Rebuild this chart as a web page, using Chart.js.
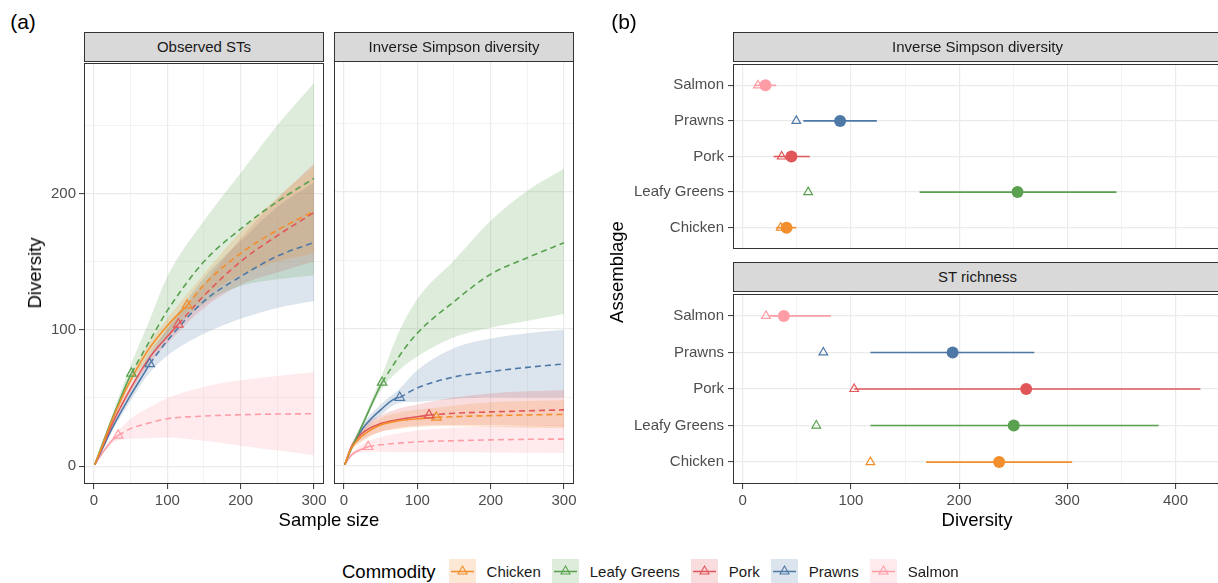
<!DOCTYPE html>
<html>
<head>
<meta charset="utf-8">
<title>Diversity by commodity</title>
<script src="https://cdn.jsdelivr.net/npm/chart.js@4.4.1/dist/chart.umd.min.js"></script>
<style>
  html, body { margin: 0; padding: 0; background: #fff; overflow: hidden; }
  #wrap { position: relative; width: 1218px; height: 583px; overflow: hidden; background: #fff;
          font-family: "Liberation Sans", Arial, sans-serif; }
  #wrap canvas { position: absolute; }
  .strip { position: absolute; box-sizing: border-box; background: #D9D9D9; border: 1px solid #333;
           color: #1A1A1A; font-size: 15px; text-align: center; white-space: nowrap; overflow: hidden; }
  .txt { position: absolute; white-space: nowrap; transform: translate(-50%, -50%); color: #000; }
  #legend { position: absolute; left: 342px; top: 559px; height: 25px; display: flex; align-items: center;
            font-size: 15px; color: #1A1A1A; white-space: nowrap; }
  #legend .title { font-size: 18.5px; color: #000; margin-right: 13px; }
  #legend svg { margin-right: 11px; }
  #legend .name { margin-right: 11px; }
</style>
</head>
<body>
<div id="wrap">
  <canvas id="stCurve"></canvas>
  <canvas id="isCurve"></canvas>
  <canvas id="invDots"></canvas>
  <canvas id="richDots"></canvas>

  <div class="strip" style="left:84px;top:32px;width:240px;height:30px;line-height:28px">Observed STs</div>
  <div class="strip" style="left:334px;top:32px;width:240px;height:30px;line-height:28px">Inverse Simpson diversity</div>
  <div class="strip" style="left:733px;top:32px;width:489px;height:30px;line-height:28px">Inverse Simpson diversity</div>
  <div class="strip" style="left:733px;top:262px;width:489px;height:30px;line-height:28px">ST richness</div>

  <div class="txt" style="left:23px;top:22px;font-size:21px">(a)</div>
  <div class="txt" style="left:624px;top:22px;font-size:21px">(b)</div>
  <div class="txt" style="left:329px;top:520px;font-size:18.5px">Sample size</div>
  <div class="txt" style="left:977px;top:520px;font-size:18.5px">Diversity</div>
  <div class="txt" style="left:35px;top:273px;font-size:18.5px;transform:translate(-50%,-50%) rotate(-90deg)">Diversity</div>
  <div class="txt" style="left:617px;top:272px;font-size:18.5px;transform:translate(-50%,-50%) rotate(-90deg)">Assemblage</div>

  <div id="legend"><span class="title">Commodity</span></div>
</div>

<script>
// ---- data -------------------------------------------------------------
const commodities = ['Chicken', 'Leafy Greens', 'Pork', 'Prawns', 'Salmon'];
const colors = ['#F28E2B', '#59A14F', '#E15759', '#4E79A7', '#FF9DA7'];
const sampleGrid = [1, 10, 25, 50, 75, 100, 150, 200, 250, 300];

// (a) Observed STs: observed point, then mean / lower / upper along sampleGrid
const stObsN = [127, 51, 115, 76, 33];
const stObsV = [118, 68, 104, 75, 22.6];
const stMean = [
  [1, 13, 34, 63, 86, 103, 133, 156, 173, 187],
  [1, 14, 35, 67, 91, 114, 150, 174, 194, 211],
  [1, 12, 31, 57, 79, 95, 125, 150, 169, 186],
  [1, 11, 28, 52, 74, 92, 121, 139, 154, 164],
  [1, 8.5, 19, 27.5, 31.6, 34.8, 36.7, 37.7, 38.2, 38.4]
];
const stLower = [
  [1, 12, 32, 60, 82, 98, 124, 140, 150, 156],
  [1, 13, 32, 61, 79, 95, 119, 132, 137, 140],
  [1, 11, 29, 54, 75, 90, 116, 133, 142, 150],
  [1, 10, 26, 48, 68, 81, 97, 108, 116, 121],
  [1, 7.5, 17, 20, 20.5, 21, 18.6, 15, 11.4, 8]
];
const stUpper = [
  [1, 14, 36, 66, 90, 108, 141, 172, 197, 220],
  [1, 15, 38, 74, 106, 139, 180, 215, 250, 281],
  [1, 13, 33, 60, 83, 100, 134, 167, 196, 222],
  [1, 12, 30, 56, 80, 101, 138, 165, 190, 208],
  [1, 9.5, 21, 34.8, 43, 49.7, 58.2, 63, 66.1, 68.8]
];

// (a) Inverse Simpson diversity
const isObsN = [126, 52, 116, 76, 33];
const isObsV = [35.5, 61, 37.2, 50, 14.1];
const isMean = [
  [1, 13, 22, 30, 33, 34.5, 36, 36.8, 37.3, 37.7],
  [1, 12.5, 30, 59, 80, 97, 120, 140, 152, 163],
  [1, 14, 24, 31, 34, 36, 38.5, 39.5, 40.3, 41],
  [1, 13, 27, 41, 50, 57, 65, 69, 72, 74.5],
  [1, 8, 12.5, 15.5, 16.7, 17.7, 18.5, 19.1, 19.5, 19.7]
];
const isLower = [
  [1, 11, 18, 25, 27, 28.5, 29, 28.5, 28, 27.5],
  [1, 12, 28, 55, 70, 80, 94, 101, 106, 111],
  [1, 12, 19, 25, 28, 29.5, 30, 30, 29.5, 29],
  [1, 12, 24, 37, 46, 47, 49, 50, 50, 50],
  [1, 7, 10, 10.5, 10, 10, 10, 9.8, 9.7, 9.6]
];
const isUpper = [
  [1, 15, 26, 35, 39, 41, 44, 46.5, 47.5, 48],
  [1, 13, 32, 64, 98, 122, 150, 179, 201, 217],
  [1, 16, 29, 37, 42, 45, 50, 53, 54.5, 55.5],
  [1, 14, 30, 45, 56, 70, 86, 93, 97, 99.5],
  [1, 9, 16, 21, 24, 26, 28, 29, 29.5, 30]
];

// (b) estimates, top to bottom
const assemblages = ['Salmon', 'Prawns', 'Pork', 'Leafy Greens', 'Chicken'];
const invObserved = [14, 49.5, 36, 60.5, 35];
const invEstimate = [21, 90, 45, 254, 40.5];
const invLower = [10.5, 56, 28.5, 163.5, 31];
const invUpper = [31, 124, 62, 345.5, 49.5];
const richObserved = [21.5, 74.5, 103, 68, 118];
const richEstimate = [38, 194, 262, 250.5, 237];
const richLower = [25, 118, 103, 118, 169.5];
const richUpper = [81.5, 269.5, 423, 384.5, 304.5];

// ---- helpers ----------------------------------------------------------
Chart.defaults.font.family = '"Liberation Sans", Arial, sans-serif';
const GRID = '#EBEBEB';
const DARK = '#333333';
const TICK_FONT = { size: 15 };
const CLEAR = 'rgba(0,0,0,0)';

function alpha(hex, a) {
    const n = parseInt(hex.slice(1), 16);
    return `rgba(${n >> 16},${(n >> 8) & 255},${n & 255},${a})`;
}

const framePlugin = {
    id: 'frame',
    afterDraw(chart) {
        const { ctx, chartArea: a } = chart;
        ctx.save();
        ctx.strokeStyle = DARK;
        ctx.lineWidth = 1;
        ctx.strokeRect(a.left + 0.5, a.top + 0.5, a.right - a.left - 1, a.bottom - a.top - 1);
        ctx.restore();
    }
};

function placeCanvas(id, area, m) {
    const cv = document.getElementById(id);
    const w = area.r - area.l + m.l + m.r;
    const h = area.b - area.t + m.t + m.b;
    cv.style.left = (area.l - m.l) + 'px';
    cv.style.top = (area.t - m.t) + 'px';
    cv.width = w; cv.height = h;
    cv.style.width = w + 'px'; cv.style.height = h + 'px';
    return cv;
}

function numAxis(min, max, major, minor, showLabels, size, horizontal) {
    const vals = [];
    for (let v = 0; v <= max; v += minor) vals.push(v);
    const isMajor = c => c.tick && c.tick.value % major === 0;
    return {
        type: 'linear', min, max,
        afterBuildTicks: s => { s.ticks = vals.map(v => ({ value: v })); },
        afterFit: s => { if (horizontal) s.height = size; else s.width = size; },
        grid: {
            color: GRID,
            lineWidth: c => isMajor(c) ? 1.2 : 0.6,
            drawTicks: showLabels,
            tickLength: 5,
            tickWidth: 1,
            tickColor: c => isMajor(c) ? DARK : CLEAR
        },
        border: { display: false },
        ticks: {
            display: showLabels, autoSkip: false, maxRotation: 0, padding: 3,
            color: '#4D4D4D', font: TICK_FONT,
            callback: v => v % major === 0 ? v : ''
        }
    };
}

function catAxis(size) {
    return {
        type: 'linear', min: -0.6, max: 4.6, reverse: true,
        afterBuildTicks: s => { s.ticks = assemblages.map((a, i) => ({ value: i })); },
        afterFit: s => { s.width = size; },
        grid: { color: GRID, lineWidth: 1.2, tickLength: 5, tickWidth: 1, tickColor: DARK },
        border: { display: false },
        ticks: { autoSkip: false, padding: 4, color: '#4D4D4D', font: TICK_FONT, callback: v => assemblages[v] }
    };
}

function baseOptions(m, scales) {
    return {
        responsive: false, animation: false, devicePixelRatio: 1, events: [],
        layout: { autoPadding: false, padding: { left: 0, top: m.t, right: m.r, bottom: 0 } },
        plugins: { legend: { display: false }, tooltip: { enabled: false } },
        scales
    };
}

function curveDatasets(obsN, obsV, mean, lower, upper) {
    const ds = [];
    const pts = arr => sampleGrid.map((n, k) => ({ x: n, y: arr[k] }));
    commodities.forEach((name, i) => {
        const lowIdx = ds.length;
        ds.push({ data: pts(lower[i]), borderColor: CLEAR, borderWidth: 0, pointRadius: 0,
                  fill: false, order: 10, cubicInterpolationMode: 'monotone' });
        ds.push({ data: pts(upper[i]), borderColor: CLEAR, borderWidth: 0, pointRadius: 0,
                  fill: lowIdx, backgroundColor: alpha(colors[i], 0.2), order: 10,
                  cubicInterpolationMode: 'monotone' });
    });
    commodities.forEach((name, i) => {
        const obs = { x: obsN[i], y: obsV[i] };
        const line = pts(mean[i]);
        const solid = line.filter(p => p.x < obs.x).concat([obs]);
        const dashed = [obs].concat(line.filter(p => p.x > obs.x));
        ds.push({ data: solid, borderColor: colors[i], borderWidth: 1.6, pointRadius: 0,
                  fill: false, order: 5, cubicInterpolationMode: 'monotone' });
        ds.push({ data: dashed, borderColor: colors[i], borderWidth: 1.6, borderDash: [6, 4],
                  pointRadius: 0, fill: false, order: 5, cubicInterpolationMode: 'monotone' });
    });
    ds.push({ data: obsN.map((n, i) => ({ x: n, y: obsV[i] })), showLine: false,
              pointStyle: 'triangle', pointRadius: 5.5, pointBorderWidth: 1.2,
              pointBorderColor: colors, pointBackgroundColor: CLEAR, order: 1 });
    return ds;
}

function intervalDatasets(observed, estimate, lower, upper) {
    const pc = assemblages.map(a => colors[commodities.indexOf(a)]);
    const ds = assemblages.map((a, i) => ({
        data: [{ x: lower[i], y: i }, { x: upper[i], y: i }],
        borderColor: pc[i], borderWidth: 1.6, pointRadius: 0, fill: false, order: 5
    }));
    ds.push({ data: observed.map((v, i) => ({ x: v, y: i })), showLine: false,
              pointStyle: 'triangle', pointRadius: 5, pointBorderWidth: 1.2,
              pointBorderColor: pc, pointBackgroundColor: CLEAR, order: 3 });
    ds.push({ data: estimate.map((v, i) => ({ x: v, y: i })), showLine: false,
              pointStyle: 'circle', pointRadius: 6, pointBorderWidth: 0,
              pointBorderColor: pc, pointBackgroundColor: pc, order: 1 });
    return ds;
}

// ---- panels -----------------------------------------------------------
function curvePanel(id, area, m, showY, ds) {
    const cv = placeCanvas(id, area, m);
    new Chart(cv, {
        type: 'line',
        data: { datasets: ds },
        options: baseOptions(m, {
            x: numAxis(-13.6, 313.6, 100, 50, true, m.b, true),
            y: numAxis(-13.1, 295.6, 100, 50, showY, m.l, false)
        }),
        plugins: [framePlugin]
    });
}

function dotPanel(id, area, m, showX, ds) {
    const cv = placeCanvas(id, area, m);
    new Chart(cv, {
        type: 'line',
        data: { datasets: ds },
        options: baseOptions(m, {
            x: numAxis(-9, 443, 100, 50, showX, m.b, true),
            y: catAxis(m.l)
        }),
        plugins: [framePlugin]
    });
}

curvePanel('stCurve', { l: 84, t: 61, r: 324, b: 484 }, { l: 84, t: 10, r: 10, b: 30 }, true,
    curveDatasets(stObsN, stObsV, stMean, stLower, stUpper));
curvePanel('isCurve', { l: 334, t: 61, r: 574, b: 484 }, { l: 10, t: 10, r: 12, b: 30 }, false,
    curveDatasets(isObsN, isObsV, isMean, isLower, isUpper));
dotPanel('invDots', { l: 733, t: 61, r: 1222, b: 252 }, { l: 120, t: 10, r: 0, b: 10 }, false,
    intervalDatasets(invObserved, invEstimate, invLower, invUpper));
dotPanel('richDots', { l: 733, t: 291, r: 1222, b: 484 }, { l: 120, t: 10, r: 0, b: 30 }, true,
    intervalDatasets(richObserved, richEstimate, richLower, richUpper));

// ---- legend -----------------------------------------------------------
const legend = document.getElementById('legend');
commodities.forEach((name, i) => {
    const c = colors[i];
    legend.insertAdjacentHTML('beforeend',
        `<svg width="27" height="25" viewBox="0 0 27 25">
           <rect x="0" y="0" width="27" height="25" fill="${alpha(c, 0.2)}"/>
           <line x1="2" y1="12.5" x2="25" y2="12.5" stroke="${c}" stroke-width="1.5"/>
           <polygon points="13.5,7 18,15 9,15" fill="none" stroke="${c}" stroke-width="1.1"/>
         </svg><span class="name">${name}</span>`);
});
</script>
</body>
</html>
